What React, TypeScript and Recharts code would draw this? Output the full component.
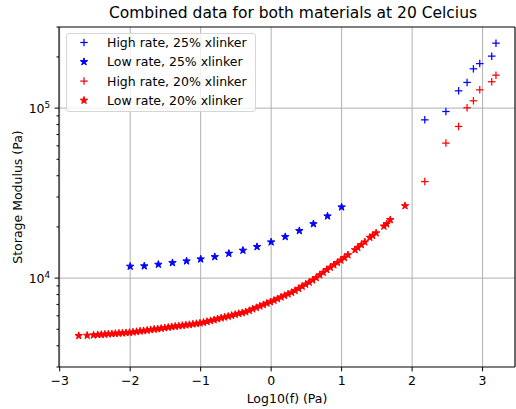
import { CartesianGrid, Legend, ReferenceLine, Scatter, ScatterChart, XAxis, YAxis } from "recharts";

const FONT = "DejaVu Sans";

// log10 of frequency for the high rate sweeps (both materials)
const highFreq = [2.18, 2.48, 2.66, 2.78, 2.87, 2.96, 3.13, 3.19];
const high25Mod = [85300, 95500, 126400, 141600, 170200, 182700, 202200, 241000];
const high20Mod = [36980, 62250, 77990, 100400, 110400, 128100, 142900, 156300];

const low25Freq = [-2.0, -1.8, -1.6, -1.4, -1.2, -1.0, -0.8, -0.6, -0.4, -0.2, 0.0, 0.2, 0.4, 0.6, 0.8, 1.0];
const low25Mod = [11720, 11770, 12030, 12300, 12590, 12930, 13340, 13960, 14550, 15290, 16290, 17500, 18980, 20840, 23150, 26170];

const low20Freq = [
  -2.73, -2.61, -2.52, -2.46, -2.41, -2.36, -2.31, -2.26, -2.21, -2.16, -2.11, -2.06, -2.01,
  -1.96, -1.91, -1.86, -1.81, -1.76, -1.71, -1.66, -1.61, -1.56, -1.51, -1.46, -1.41, -1.36,
  -1.31, -1.26, -1.21, -1.16, -1.11, -1.06, -1.01, -0.96, -0.91, -0.86, -0.81, -0.76, -0.71,
  -0.66, -0.61, -0.56, -0.51, -0.46, -0.41, -0.36, -0.31, -0.26, -0.21, -0.16, -0.11, -0.06,
  -0.01, 0.04, 0.09, 0.14, 0.19, 0.24, 0.29, 0.34, 0.39, 0.44, 0.49, 0.54, 0.59, 0.64, 0.69,
  0.74, 0.79, 0.84, 0.89, 0.94, 0.99, 1.04, 1.09, 1.19, 1.23, 1.28, 1.33, 1.4, 1.44, 1.49,
  1.6, 1.64, 1.69, 1.9,
];
const low20Mod = [
  4580, 4600, 4620, 4640, 4655, 4670, 4690, 4700, 4720, 4735, 4750, 4765, 4785,
  4810, 4840, 4875, 4900, 4930, 4965, 5000, 5025, 5060, 5095, 5130, 5165, 5200,
  5225, 5260, 5295, 5320, 5360, 5395, 5430, 5480, 5545, 5610, 5675, 5755, 5820,
  5890, 5955, 6025, 6110, 6180, 6250, 6325, 6440, 6575, 6700, 6840, 6970, 7110,
  7245, 7395, 7550, 7725, 7890, 8055, 8225, 8435, 8670, 8935, 9185, 9440, 9725, 10050, 10420,
  10790, 11195, 11560, 11940, 12330, 12735, 13180, 13680, 14650, 15140, 15700, 16290, 17340, 17780, 18410,
  20180, 20800, 22030, 26600,
];

const xTicks = [-3, -2, -1, 0, 1, 2, 3];
const yTicks = [
  3000, 4000, 5000, 6000, 7000, 8000, 9000,
  10000, 20000, 30000, 40000, 50000, 60000, 70000, 80000, 90000,
  100000, 200000, 300000,
];
const majorY = [10000, 100000];

const legendItems = [
  { label: "High rate, 25% xlinker", color: "#0000ff", marker: "plus" },
  { label: "Low rate, 25% xlinker", color: "#0000ff", marker: "star" },
  { label: "High rate, 20% xlinker", color: "#ff0000", marker: "plus" },
  { label: "Low rate, 20% xlinker", color: "#ff0000", marker: "star" },
];

const zip = (xs: number[], ys: number[]) => xs.map((x, i) => ({ x, y: ys[i] }));

const high25 = zip(highFreq, high25Mod);
const high20 = zip(highFreq, high20Mod);
const low25 = zip(low25Freq, low25Mod);
const low20 = zip(low20Freq, low20Mod);

function starPoints(cx: number, cy: number, R: number) {
  const r = R * 0.382;
  const pts: string[] = [];
  for (let i = 0; i < 10; i++) {
    const a = -Math.PI / 2 + (i * Math.PI) / 5;
    const rad = i % 2 === 0 ? R : r;
    pts.push(`${cx + rad * Math.cos(a)},${cy + rad * Math.sin(a)}`);
  }
  return pts.join(" ");
}

const StarMark = ({ cx, cy, color }: { cx: number; cy: number; color: string }) => (
  <polygon points={starPoints(cx, cy, 3.9)} fill={color} stroke={color} strokeWidth={1} strokeLinejoin="miter" />
);

const PlusMark = ({ cx, cy, color }: { cx: number; cy: number; color: string }) => (
  <g stroke={color} strokeWidth={1.25}>
    <line x1={cx - 3.75} x2={cx + 3.75} y1={cy} y2={cy} />
    <line x1={cx} x2={cx} y1={cy - 3.75} y2={cy + 3.75} />
  </g>
);

const minus = (v: number) => (v < 0 ? `\u2212${-v}` : `${v}`);

const XTick = (props: any) => {
  const { x, y, payload } = props;
  return (
    <g>
      <line x1={x} x2={x} y1={y} y2={y + 4.4} stroke="#000" strokeWidth={1} />
      <text x={x} y={y + 18} textAnchor="middle" fontFamily={FONT} fontSize={12.5} fill="#000">
        {minus(payload.value)}
      </text>
    </g>
  );
};

const YTick = (props: any) => {
  const { x, y, payload } = props;
  const v = payload.value as number;
  const major = majorY.includes(v);
  const exp = Math.round(Math.log10(v));
  return (
    <g>
      <line x1={x - (major ? 4.4 : 2.5)} x2={x} y1={y} y2={y} stroke="#000" strokeWidth={1} />
      {major && (
        <text x={x - 8.8} y={y + 4.6} textAnchor="end" fontFamily={FONT} fontSize={12.5} fill="#000">
          10
          <tspan dy={-4.8} fontSize={8.8}>
            {exp}
          </tspan>
        </text>
      )}
    </g>
  );
};

const LegendBox = () => (
  <div
    style={{
      boxSizing: "border-box",
      width: 190,
      height: 79,
      border: "1px solid #d6d6d6",
      borderRadius: 3,
      background: "rgba(255,255,255,0.8)",
    }}
  >
    <svg width={188} height={77} style={{ display: "block" }}>
      {legendItems.map((it, i) => {
        const cy = 8.5 + i * 19.3;
        return (
          <g key={it.label}>
            {it.marker === "plus" ? (
              <PlusMark cx={17} cy={cy} color={it.color} />
            ) : (
              <StarMark cx={17} cy={cy} color={it.color} />
            )}
            <text x={40} y={cy + 4.5} fontFamily={FONT} fontSize={12.5} fill="#000">
              {it.label}
            </text>
          </g>
        );
      })}
    </svg>
  </div>
);

export default function App() {
  return (
    <div style={{ position: "absolute", left: 0, top: 0, width: 516, height: 409 }}>
      <ScatterChart width={516} height={409} margin={{ top: 26, right: 0, bottom: 0, left: 0 }}>
        <CartesianGrid horizontal={false} vertical stroke="#b0b0b0" strokeWidth={1} />
        <XAxis
          dataKey="x"
          type="number"
          domain={[-3.01, 3.46]}
          ticks={xTicks}
          allowDataOverflow
          height={42}
          axisLine={{ stroke: "#000", strokeWidth: 1 }}
          tickLine={false}
          tickSize={0}
          tickMargin={0}
          tick={<XTick />}
          label={{ value: "Log10(f) (Pa)", position: "insideBottom", offset: 6, fontFamily: FONT, fontSize: 12.5, fill: "#000" }}
        />
        <YAxis
          dataKey="y"
          type="number"
          scale="log"
          domain={[3000, 300000]}
          ticks={yTicks}
          allowDataOverflow
          width={59}
          interval={0}
          axisLine={{ stroke: "#000", strokeWidth: 1 }}
          tickLine={false}
          tickSize={0}
          tickMargin={0}
          tick={<YTick />}
        />
        <XAxis
          xAxisId="top"
          orientation="top"
          type="number"
          domain={[-3.01, 3.46]}
          height={1}
          tick={false}
          tickLine={false}
          axisLine={{ stroke: "#000", strokeWidth: 1 }}
        />
        <YAxis
          yAxisId="right"
          orientation="right"
          type="number"
          domain={[0, 1]}
          width={1}
          tick={false}
          tickLine={false}
          axisLine={{ stroke: "#000", strokeWidth: 1 }}
        />
        <ReferenceLine y={10000} stroke="#b0b0b0" strokeWidth={1} />
        <ReferenceLine y={100000} stroke="#b0b0b0" strokeWidth={1} />
        <Scatter
          name="High rate, 25% xlinker"
          data={high25}
          isAnimationActive={false}
          shape={(p: any) => <PlusMark cx={p.cx} cy={p.cy} color="#0000ff" />}
        />
        <Scatter
          name="Low rate, 25% xlinker"
          data={low25}
          isAnimationActive={false}
          shape={(p: any) => <StarMark cx={p.cx} cy={p.cy} color="#0000ff" />}
        />
        <Scatter
          name="High rate, 20% xlinker"
          data={high20}
          isAnimationActive={false}
          shape={(p: any) => <PlusMark cx={p.cx} cy={p.cy} color="#ff0000" />}
        />
        <Scatter
          name="Low rate, 20% xlinker"
          data={low20}
          isAnimationActive={false}
          shape={(p: any) => <StarMark cx={p.cx} cy={p.cy} color="#ff0000" />}
        />
        <Legend
          layout="vertical"
          align="center"
          verticalAlign="middle"
          content={() => <LegendBox />}
          wrapperStyle={{ left: 66, top: 33, width: 190, height: 79 }}
        />
      </ScatterChart>
      <svg
        width={516}
        height={409}
        style={{ position: "absolute", left: 0, top: 0, pointerEvents: "none" }}
      >
        <text x={293} y={18} textAnchor="middle" fontFamily={FONT} fontSize={15.5} fill="#000">
          Combined data for both materials at 20 Celcius
        </text>
        <text
          x={22}
          y={197}
          textAnchor="middle"
          fontFamily={FONT}
          fontSize={12.5}
          fill="#000"
          transform="rotate(-90 22 197)"
        >
          Storage Modulus (Pa)
        </text>
      </svg>
    </div>
  );
}
